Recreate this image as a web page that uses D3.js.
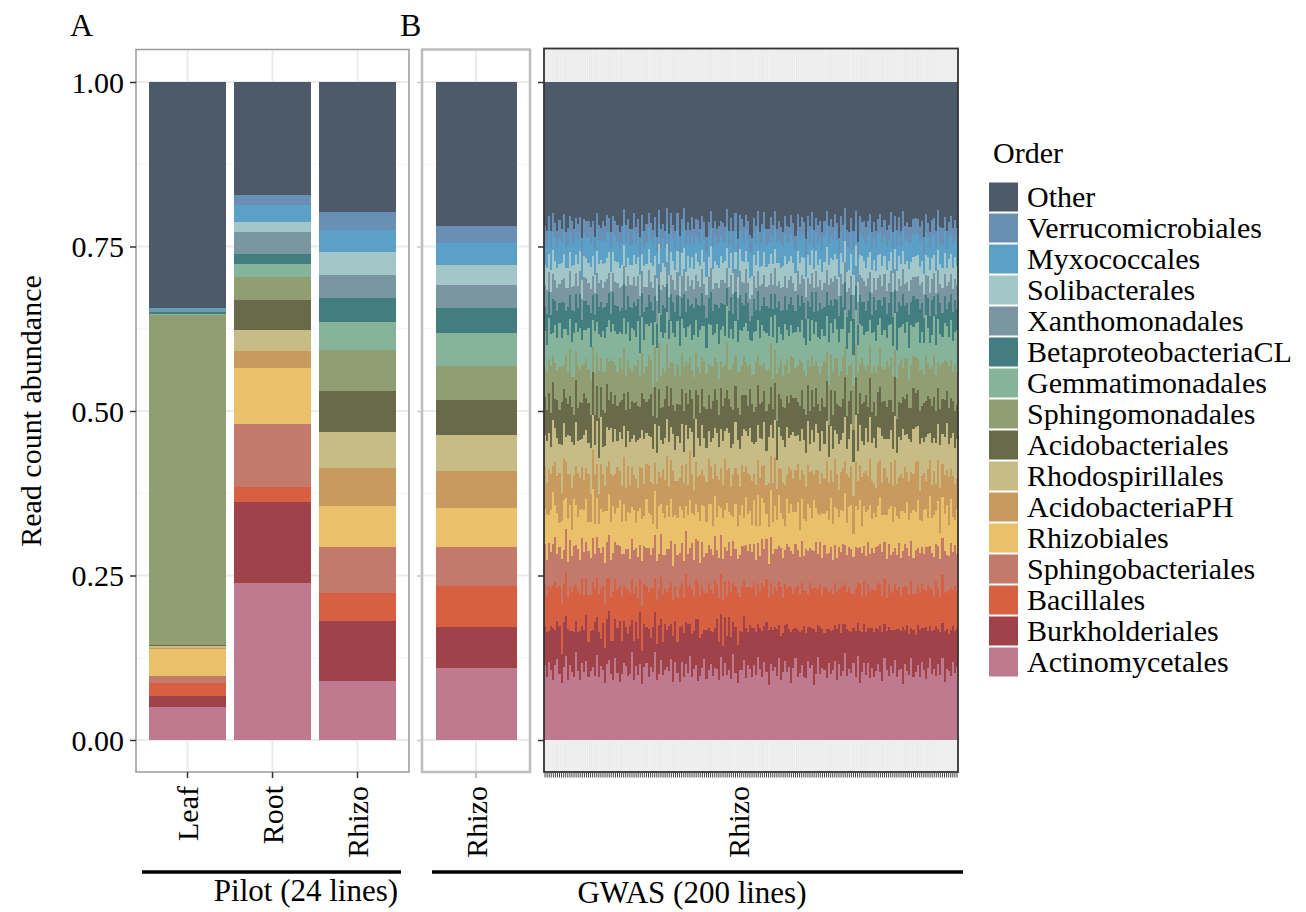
<!DOCTYPE html>
<html>
<head>
<meta charset="utf-8">
<title>Read count abundance by order</title>
<script src="https://cdn.jsdelivr.net/npm/d3@7"></script>
<style>
body { margin: 0; background: #fff; }
svg text { font-family: "Liberation Serif", "Times New Roman", serif; fill: #000; }
</style>
</head>
<body>
<script>

// legend order, top to bottom (stacking goes the other way)
var orders = ["Other","Verrucomicrobiales","Myxococcales","Solibacterales","Xanthomonadales",
  "BetaproteobacteriaCL","Gemmatimonadales","Sphingomonadales","Acidobacteriales","Rhodospirillales",
  "AcidobacteriaPH","Rhizobiales","Sphingobacteriales","Bacillales","Burkholderiales","Actinomycetales"];
var orderColors = ["#4c5a69","#6a8fb4","#5ba0c7","#a3c6c9","#7a97a1","#427e80","#86b49a","#919e71",
  "#696a4a","#c7bb86","#c99a5e","#eac16a","#c47a6a","#d66041","#9f4249","#bf7a90"];

var pilotSamples = ["Leaf","Root","Rhizo"];
// proportions in legend order
var pilotLeaf  = [0.343,0.001,0.002,0.001,0.003,0.002,0.002,0.502,0.001,0.003,0.002,0.040,0.012,0.019,0.017,0.050];
var pilotRoot  = [0.172,0.015,0.026,0.015,0.033,0.016,0.019,0.036,0.045,0.032,0.026,0.085,0.096,0.023,0.122,0.239];
var pilotRhizo = [0.198,0.027,0.034,0.035,0.035,0.035,0.044,0.062,0.062,0.054,0.059,0.062,0.069,0.043,0.091,0.090];
var gwasRhizo  = [0.219,0.025,0.034,0.031,0.034,0.039,0.049,0.052,0.054,0.054,0.057,0.058,0.060,0.062,0.062,0.110];

// GWAS: 200 lines, per-mille read counts per order (rough)
var gwasActinomycetales = [
112,98,121,105,93,117,130,101,88,109,124,96,115,107,99,132,110,94,118,103,
126,91,108,114,100,135,97,119,106,89,113,128,102,95,120,111,84,104,123,116,
99,107,131,92,115,101,118,87,109,125,96,112,104,138,93,106,121,98,110,117,
103,127,95,114,108,90,122,100,116,105,134,97,111,119,86,102,113,129,94,107,
120,99,109,115,92,124,104,117,101,111,96,130,106,88,114,103,125,98,119,108,
95,116,102,133,110,97,121,105,89,118,107,113,100,127,94,109,122,103,115,91,
112,128,98,106,119,101,93,124,110,117,86,105,131,99,114,108,96,120,104,111,
123,94,115,102,109,137,97,112,106,118,100,126,91,108,116,103,121,95,113,99,
107,119,104,92,125,111,98,117,103,129,95,110,114,87,120,106,101,132,96,109,
116,100,122,108,94,113,127,102,110,97,118,105,124,90,112,107,99,121,104,115];
var gwasBurkholderiales = [
58,71,49,66,80,54,62,75,45,68,59,83,52,64,70,47,61,77,56,65,
73,50,63,57,86,60,69,44,72,55,66,78,51,62,58,74,90,53,67,60,
64,76,48,61,70,57,82,52,65,59,73,46,68,63,55,79,62,50,71,58,
67,54,74,60,49,85,56,69,63,77,51,66,58,72,92,61,55,47,76,64,
53,68,62,79,57,65,50,71,60,84,66,48,73,59,64,56,70,81,52,67,
75,58,66,52,63,70,55,78,89,57,64,61,74,50,69,62,56,73,60,81,
59,48,72,65,56,80,68,54,63,58,87,66,51,70,62,57,76,53,69,64,
57,79,61,68,74,46,70,59,65,55,72,50,83,63,58,67,54,78,61,71,
66,55,70,77,51,62,75,58,67,49,73,63,60,88,54,69,64,47,72,59,
62,74,53,65,81,58,50,68,61,76,56,70,52,80,63,57,71,55,66,60];
var gwasBacillales = [
63,55,70,58,66,74,52,61,79,57,64,50,68,60,72,56,65,59,73,54,
60,67,57,75,52,63,58,81,55,69,61,53,66,78,59,64,50,71,56,62,
68,54,62,73,57,64,51,70,59,66,56,77,60,53,69,58,63,72,55,61,
57,65,59,51,71,60,66,55,74,58,62,69,54,63,52,67,76,60,58,70,
64,58,72,55,67,61,75,53,62,57,70,59,66,80,56,68,54,63,71,58,
61,70,56,64,58,73,60,66,52,69,55,62,59,67,76,57,63,54,68,72,
55,63,69,58,74,56,62,51,68,60,64,71,57,65,53,70,61,58,66,57,
66,59,53,71,60,65,57,70,63,52,68,61,74,56,64,58,69,55,62,67,
59,72,64,56,69,53,66,61,57,74,60,67,55,63,70,58,62,76,54,65,
63,57,68,60,55,71,59,64,52,67,62,58,73,61,56,69,65,57,70,60];
var gwasSphingobacteriales = [
61,57,66,53,63,70,55,60,68,52,64,58,72,56,62,59,67,54,61,65,
56,64,59,68,54,62,71,57,60,65,53,69,58,63,55,74,59,66,52,61,
63,55,60,67,58,64,53,70,57,62,66,51,61,68,59,56,65,60,54,69,
58,66,54,61,69,55,63,59,65,52,60,71,57,64,62,53,68,56,62,58,
65,60,68,56,62,58,66,54,70,61,57,63,59,52,67,60,55,69,58,64,
54,61,57,65,53,68,59,62,56,70,63,58,66,55,60,64,52,67,61,57,
62,69,55,60,66,57,64,68,53,61,58,72,56,63,59,65,54,60,67,55,
59,53,64,58,67,61,56,63,69,57,65,52,60,68,54,62,66,58,63,59,
66,58,61,70,55,63,60,57,64,59,53,68,62,56,66,61,58,64,55,71,
57,63,59,54,68,60,65,56,62,58,67,61,55,64,60,53,69,59,63,58];
var gwasRhizobiales = [
52,71,44,63,80,49,66,38,59,75,47,68,55,41,73,60,50,78,45,64,
69,42,57,76,48,62,37,70,53,81,46,65,58,74,40,61,67,51,79,43,
56,74,47,63,39,72,58,66,44,79,53,61,36,68,50,77,45,64,57,71,
48,65,80,42,60,73,51,69,38,62,76,46,70,55,43,67,59,81,49,63,
72,45,61,54,78,40,67,57,74,48,64,37,71,52,66,60,44,75,58,50,
41,68,53,77,47,63,70,39,59,73,50,66,45,79,56,62,37,69,54,76,
64,50,75,44,68,58,42,73,61,49,80,55,63,40,71,47,67,52,78,57,
59,77,46,66,53,81,48,62,70,36,65,57,74,43,60,69,51,76,45,63,
47,63,72,57,41,69,54,78,46,66,59,38,75,62,49,70,56,44,73,61,
74,52,40,68,60,45,77,55,65,50,71,43,63,58,79,48,67,53,39,70];
var gwasAcidobacteriaPH = [
63,48,71,55,40,67,59,76,44,61,52,73,47,66,38,58,70,51,64,45,
50,69,43,62,77,54,46,72,58,39,65,53,74,49,60,68,42,57,75,52,
71,44,60,53,68,36,63,79,48,57,74,51,62,45,70,55,41,66,59,78,
46,62,75,50,58,43,70,55,64,47,78,60,38,67,52,73,56,48,61,69,
58,73,49,66,41,61,54,77,52,69,44,63,57,80,46,59,72,50,65,55,
67,40,63,56,74,48,59,45,71,53,61,76,50,42,68,57,64,37,72,54,
52,66,58,79,45,70,51,62,56,73,39,60,69,47,64,53,77,58,43,66,
75,55,41,61,67,52,74,47,63,58,70,44,56,78,49,65,53,71,60,46,
44,68,57,50,72,62,40,69,55,76,48,66,59,51,73,45,61,67,54,79,
61,47,70,58,43,76,56,51,68,42,63,72,49,60,55,74,46,64,57,50];
var gwasRhodospirillales = [
48,66,57,41,70,52,62,45,74,55,38,63,59,72,46,67,51,60,43,69,
61,44,72,53,47,68,56,76,40,62,58,49,71,54,65,42,57,73,50,64,
55,70,42,63,58,75,46,60,67,50,44,69,53,61,48,74,56,39,66,59,
67,51,60,45,73,54,63,49,58,71,37,64,52,68,57,46,70,61,53,43,
40,63,54,69,50,58,72,44,65,56,61,47,74,52,62,43,68,55,59,71,
59,47,68,56,62,41,66,53,75,48,70,57,44,63,51,69,58,72,46,55,
72,54,45,61,66,57,50,69,43,64,52,73,58,49,67,55,62,41,70,53,
46,62,71,50,55,69,38,60,66,53,74,45,63,57,42,68,54,64,59,72,
63,56,49,74,44,60,67,52,58,71,47,62,54,76,50,59,65,48,69,57,
53,73,60,47,68,55,42,66,51,62,57,70,45,59,73,52,48,67,56,61];
var gwasAcidobacteriales = [
56,48,62,51,58,45,60,53,66,50,57,49,61,54,47,63,52,59,55,64,
50,58,53,67,46,55,61,49,57,52,64,48,56,60,51,58,44,62,53,57,
59,52,56,49,63,54,47,58,61,51,55,66,50,57,53,60,48,55,62,52,
54,61,47,57,52,59,55,64,49,56,60,51,58,46,63,53,57,50,61,55,
51,57,60,53,48,62,56,50,59,54,65,52,57,49,55,61,53,58,47,60,
58,50,55,63,52,57,49,61,54,59,46,56,62,51,58,53,60,48,55,64,
53,59,51,56,61,48,58,55,50,63,54,57,47,60,52,56,62,49,58,54,
60,47,57,52,55,64,50,59,53,48,61,56,51,58,65,52,55,60,49,57,
49,56,62,54,58,51,60,47,56,63,52,55,59,50,57,61,48,54,62,53,
57,53,50,61,55,59,52,57,64,49,56,60,53,58,51,55,62,50,57,54];
var gwasSphingomonadales = [
45,61,53,70,40,57,49,66,55,37,63,50,72,47,59,43,68,52,58,46,
62,48,55,41,67,52,73,46,58,64,39,60,51,69,44,56,65,49,71,54,
50,66,43,59,54,71,47,62,38,57,68,53,45,63,56,74,48,60,42,67,
57,42,68,51,63,46,55,70,49,61,53,44,66,58,41,64,50,72,54,47,
69,53,47,62,56,40,65,51,73,45,59,67,48,56,70,42,61,53,64,38,
44,58,71,49,60,55,43,64,57,68,46,52,74,41,63,50,66,56,47,62,
61,47,56,73,44,62,58,40,67,52,65,43,60,55,49,71,45,63,57,69,
53,70,45,58,66,48,61,55,42,69,50,63,47,72,54,39,65,51,60,56,
67,42,62,54,48,73,51,66,56,44,61,57,70,46,64,53,43,68,49,59,
48,64,57,43,71,52,46,60,65,54,40,69,55,62,47,66,58,44,72,51];
var gwasGemmatimonadales = [
55,41,63,48,36,58,51,67,44,53,39,61,47,56,70,43,52,64,38,50,
46,60,52,40,65,49,57,34,62,54,45,68,41,59,50,63,37,55,48,66,
58,44,67,53,47,61,38,56,50,69,43,57,64,40,53,48,66,45,60,52,
42,63,49,57,70,45,54,62,36,59,51,46,65,53,44,68,49,57,41,61,
64,50,38,60,53,47,66,43,58,51,62,40,55,47,69,52,45,61,56,37,
51,67,46,55,42,63,49,58,53,40,66,54,48,62,39,57,64,44,59,50,
39,56,61,44,68,52,47,65,41,57,50,63,45,54,60,38,55,67,49,62,
60,47,53,66,45,58,40,52,69,48,56,42,64,51,46,61,53,39,63,55,
48,62,44,51,59,37,64,55,47,60,43,58,52,67,41,56,50,65,45,53,
57,43,59,49,63,54,41,50,61,46,68,52,38,58,55,44,62,48,51,66];
var gwasBetaproteobacteriaCL = [
35,48,41,29,52,38,44,31,56,40,27,46,37,50,33,43,39,54,30,45,
47,32,53,39,26,45,41,57,34,49,36,43,28,51,38,46,31,42,55,37,
40,55,30,44,49,35,58,38,42,28,47,33,52,41,37,45,26,50,39,44,
29,43,51,36,41,47,32,54,39,45,30,56,42,35,48,38,53,33,46,40,
52,37,45,31,55,40,36,48,27,43,51,38,46,34,57,41,35,49,44,28,
38,50,33,47,42,29,53,41,46,37,44,32,55,40,36,49,43,30,51,45,
44,34,49,40,37,56,39,28,52,43,35,47,41,53,31,45,38,57,36,42,
31,46,39,53,34,44,48,36,41,55,38,30,45,39,50,33,47,42,28,54,
49,40,27,45,51,38,33,50,44,36,58,41,34,48,42,29,52,37,46,39,
36,53,44,38,30,48,42,55,32,46,39,51,37,43,27,54,40,45,49,34];
var gwasXanthomonadales = [
33,37,31,35,39,32,36,30,34,38,33,29,36,35,40,31,34,37,32,36,
36,32,38,30,35,33,37,34,31,39,35,32,36,30,34,38,33,35,29,37,
31,35,33,38,32,36,30,34,37,33,39,31,35,32,36,34,38,30,33,35,
35,30,36,33,37,31,34,39,32,35,33,37,30,36,34,31,38,33,36,32,
38,34,32,36,30,35,39,33,31,37,34,30,36,33,38,32,35,37,31,34,
32,36,35,31,38,34,33,30,37,32,36,39,34,31,35,37,30,34,38,33,
34,31,37,35,33,38,32,36,34,30,37,33,39,35,31,36,34,32,35,38,
37,33,30,34,36,32,38,35,30,36,31,35,33,37,32,39,36,31,34,30,
30,35,38,32,34,37,31,33,39,34,32,36,31,38,35,33,37,35,30,36,
35,38,33,37,31,34,36,32,35,33,38,30,37,34,36,32,31,36,33,37];
var gwasSolibacterales = [
30,34,28,32,36,29,33,31,27,35,30,33,29,34,32,28,36,31,30,33,
33,29,35,31,28,34,30,32,36,29,31,34,28,33,30,35,29,32,34,30,
28,32,30,35,33,29,34,27,31,36,32,29,33,30,35,31,28,34,32,29,
32,35,31,28,34,30,36,33,29,32,28,35,31,34,29,33,30,36,28,31,
35,30,33,29,31,36,28,34,32,30,35,31,27,33,36,30,32,29,34,31,
29,33,36,32,30,28,35,31,34,29,33,30,36,28,32,34,31,35,29,32,
31,28,32,34,29,33,31,36,30,35,29,32,34,31,28,33,35,30,32,36,
34,31,29,33,35,32,30,28,36,31,34,29,32,35,30,28,33,31,36,29,
30,36,32,30,28,34,33,31,29,33,30,36,35,29,31,32,34,28,30,33,
33,29,34,31,32,30,35,32,28,34,31,33,30,32,29,35,31,33,34,30];
var gwasMyxococcales = [
35,31,38,33,29,36,34,40,32,35,30,37,33,39,31,34,36,29,38,33,
32,37,34,30,39,33,35,31,36,34,38,30,35,32,37,33,29,36,34,38,
37,33,30,36,34,38,32,35,29,37,33,36,31,34,39,32,35,37,30,34,
34,38,35,31,33,37,30,36,39,32,35,33,38,30,34,36,32,35,37,31,
31,35,37,34,38,32,36,29,33,35,31,38,34,37,32,35,30,34,36,39,
36,32,34,39,31,35,38,33,35,30,37,34,32,36,38,31,35,33,30,37,
33,36,31,35,37,34,30,38,32,36,34,31,37,33,35,39,32,34,36,30,
38,30,36,32,34,31,37,35,33,39,30,36,35,31,34,37,33,36,32,35,
35,34,33,37,30,36,32,34,38,31,36,33,29,35,37,34,38,32,35,33,
32,37,36,33,35,29,34,37,31,34,38,32,36,34,30,35,33,37,31,36];
var gwasVerrucomicrobiales = [
24,27,22,26,29,23,25,28,21,26,24,27,23,30,25,22,27,24,26,23,
26,23,28,24,21,27,25,22,29,24,26,23,27,25,22,28,24,26,23,27,
23,26,25,29,24,22,27,25,23,28,21,26,24,27,25,23,29,22,26,24,
27,24,22,26,28,25,23,27,24,21,26,29,23,25,27,24,22,28,25,23,
25,28,24,23,26,21,29,24,27,25,23,26,28,22,24,27,25,23,29,26,
22,26,27,25,23,28,24,26,22,27,25,24,21,28,26,23,27,25,24,28,
28,23,25,22,27,24,26,23,28,24,27,22,26,25,29,24,23,27,25,22,
24,27,23,28,25,22,27,26,24,29,23,25,27,22,26,28,24,23,27,25,
26,22,28,25,24,27,23,29,25,22,26,28,24,26,23,25,27,24,22,27,
23,25,26,24,28,23,25,22,27,26,24,28,25,23,27,22,26,25,28,24];
var gwasOther = [
215,232,208,224,201,219,240,212,227,198,221,235,206,218,230,204,225,213,238,209,
222,200,229,216,243,207,220,234,211,226,196,218,231,214,205,237,219,228,203,224,
210,236,219,202,227,214,241,208,223,231,199,217,226,212,239,206,222,215,233,201,
228,205,233,218,210,239,213,200,225,220,236,207,229,216,203,234,211,224,240,214,
204,226,212,237,219,208,230,221,197,235,214,225,209,242,217,203,228,212,220,233,
236,211,224,206,232,218,201,227,238,210,222,199,231,215,226,240,207,219,229,212,
218,241,205,229,214,223,236,210,220,202,232,216,227,208,237,213,200,225,217,231,
207,220,238,212,226,199,223,235,216,230,205,241,213,222,209,229,218,203,234,221,
231,215,202,227,210,236,219,206,232,217,224,211,238,201,228,214,225,233,209,218,
213,229,217,240,204,221,232,215,211,227,200,236,220,210,235,218,206,226,214,230];

var yTicks = [0, 0.25, 0.5, 0.75, 1];
var yMinor = [0.125, 0.375, 0.625, 0.875];

var W = 1306, H = 912;
var svg = d3.select("body").append("svg").attr("width", W).attr("height", H);

var y = d3.scaleLinear().domain([0, 1]).range([740, 82]);
var color = d3.scaleOrdinal().domain(orders).range(orderColors);
var stackKeys = orders.slice().reverse();
var stack = d3.stack().keys(stackKeys).offset(d3.stackOffsetExpand);

function toRow(name, vals) {
  var r = { sample: name };
  orders.forEach(function (o, i) { r[o] = vals[i]; });
  return r;
}

// ---- panel frames -----
var pA = { x0: 136, x1: 409, top: 49.5, bottom: 772 };
var pB = { x0: 422, x1: 530, top: 49.5, bottom: 772 };
var pG = { x0: 544, x1: 958, top: 48.5, bottom: 772 };

function whitePanel(p, bandScale, names) {
  var g = svg.append("g");
  yMinor.forEach(function (t) {
    g.append("line").attr("x1", p.x0).attr("x2", p.x1).attr("y1", y(t)).attr("y2", y(t))
      .attr("stroke", "#f4f4f4").attr("stroke-width", 1);
  });
  yTicks.forEach(function (t) {
    g.append("line").attr("x1", p.x0).attr("x2", p.x1).attr("y1", y(t)).attr("y2", y(t))
      .attr("stroke", "#ebebeb").attr("stroke-width", 2);
  });
  names.forEach(function (n) {
    var cx = bandScale(n) + bandScale.bandwidth() / 2;
    g.append("line").attr("x1", cx).attr("x2", cx).attr("y1", p.top).attr("y2", p.bottom)
      .attr("stroke", "#ebebeb").attr("stroke-width", 2);
  });
  return g;
}

// ---- A: pilot ----
var xA = d3.scaleBand().domain(pilotSamples).range([145, 400]).paddingInner(0.1).paddingOuter(0.05);
whitePanel(pA, xA, pilotSamples);
var pilotRows = [toRow("Leaf", pilotLeaf), toRow("Root", pilotRoot), toRow("Rhizo", pilotRhizo)];
var pilotSeries = stack(pilotRows);

function drawBars(series, xs) {
  svg.append("g").selectAll("g").data(series).enter().append("g")
    .attr("fill", function (s) { return color(s.key); })
    .selectAll("rect").data(function (s) { return s; }).enter().append("rect")
    .attr("x", function (d) { return xs(d.data.sample); })
    .attr("width", xs.bandwidth())
    .attr("y", function (d) { return y(d[1]); })
    .attr("height", function (d) { return y(d[0]) - y(d[1]); })
    .attr("shape-rendering", "crispEdges");
}
drawBars(pilotSeries, xA);

svg.append("rect").attr("x", pA.x0).attr("y", pA.top).attr("width", pA.x1 - pA.x0)
  .attr("height", pA.bottom - pA.top).attr("fill", "none").attr("stroke", "#9a9a9a").attr("stroke-width", 1.5);

var yAxisA = svg.append("g").attr("transform", "translate(" + pA.x0 + ",0)")
  .call(d3.axisLeft(y).tickValues(yTicks).tickFormat(d3.format(".2f")).tickSize(6).tickPadding(6));
yAxisA.select(".domain").remove();
yAxisA.selectAll("line").attr("stroke", "#333").attr("stroke-width", 1.5);
yAxisA.selectAll("text").style("font-size", "30px").attr("dy", "0.34em")
  .style("font-family", "Liberation Serif").attr("fill", "#000");

var xAxisA = svg.append("g").attr("transform", "translate(0," + pA.bottom + ")")
  .call(d3.axisBottom(xA).tickSize(6).tickFormat(""));
xAxisA.select(".domain").remove();
xAxisA.selectAll("line").attr("stroke", "#333").attr("stroke-width", 1.5);

// ---- B: GWAS mean rhizo ----
var xB = d3.scaleBand().domain(["Rhizo"]).range([pB.x0, pB.x1]).paddingInner(0.1).paddingOuter(0.15);
whitePanel(pB, xB, ["Rhizo"]);
drawBars(stack([toRow("Rhizo", gwasRhizo)]), xB);
svg.append("rect").attr("x", pB.x0).attr("y", pB.top).attr("width", pB.x1 - pB.x0)
  .attr("height", pB.bottom - pB.top).attr("fill", "none").attr("stroke", "#bdbdbd").attr("stroke-width", 2.5);
var yAxisB = svg.append("g").attr("transform", "translate(" + pB.x0 + ",0)")
  .call(d3.axisLeft(y).tickValues(yTicks).tickFormat("").tickSize(5));
yAxisB.select(".domain").remove();
yAxisB.selectAll("line").attr("stroke", "#c8c8c8").attr("stroke-width", 1.5);
var xAxisB = svg.append("g").attr("transform", "translate(0," + pB.bottom + ")")
  .call(d3.axisBottom(xB).tickSize(6).tickFormat(""));
xAxisB.select(".domain").remove();
xAxisB.selectAll("line").attr("stroke", "#aaa").attr("stroke-width", 1.5);

// ---- GWAS 200 lines ----
var gwasByOrder = {
  "Other": gwasOther, "Verrucomicrobiales": gwasVerrucomicrobiales, "Myxococcales": gwasMyxococcales,
  "Solibacterales": gwasSolibacterales, "Xanthomonadales": gwasXanthomonadales,
  "BetaproteobacteriaCL": gwasBetaproteobacteriaCL, "Gemmatimonadales": gwasGemmatimonadales,
  "Sphingomonadales": gwasSphingomonadales, "Acidobacteriales": gwasAcidobacteriales,
  "Rhodospirillales": gwasRhodospirillales, "AcidobacteriaPH": gwasAcidobacteriaPH,
  "Rhizobiales": gwasRhizobiales, "Sphingobacteriales": gwasSphingobacteriales,
  "Bacillales": gwasBacillales, "Burkholderiales": gwasBurkholderiales,
  "Actinomycetales": gwasActinomycetales
};
var lineIds = gwasOther.map(function (d, i) { return "line" + (i + 1); });
var gwasRows = lineIds.map(function (id, i) {
  var r = { sample: id };
  orders.forEach(function (o) { r[o] = gwasByOrder[o][i]; });
  return r;
});
var xG = d3.scaleBand().domain(lineIds).range([pG.x0, pG.x1]).padding(0);

svg.append("rect").attr("x", pG.x0).attr("y", pG.top).attr("width", pG.x1 - pG.x0)
  .attr("height", pG.bottom - pG.top).attr("fill", "#ebebeb");
svg.append("g").selectAll("line").data(lineIds).enter().append("line")
  .attr("x1", function (d) { return xG(d) + xG.bandwidth() / 2; })
  .attr("x2", function (d) { return xG(d) + xG.bandwidth() / 2; })
  .attr("y1", pG.top).attr("y2", pG.bottom)
  .attr("stroke", "#f6f6f6").attr("stroke-width", 0.6);
drawBars(stack(gwasRows), xG);
svg.append("rect").attr("x", pG.x0).attr("y", pG.top).attr("width", pG.x1 - pG.x0)
  .attr("height", pG.bottom - pG.top).attr("fill", "none").attr("stroke", "#333").attr("stroke-width", 1.8);
var yAxisG = svg.append("g").attr("transform", "translate(" + pG.x0 + ",0)")
  .call(d3.axisLeft(y).tickValues(yTicks).tickFormat("").tickSize(6));
yAxisG.select(".domain").remove();
yAxisG.selectAll("line").attr("stroke", "#333").attr("stroke-width", 1.5);
var xAxisG = svg.append("g").attr("transform", "translate(0," + (pG.bottom + 0.5) + ")")
  .call(d3.axisBottom(xG).tickSize(5).tickFormat(""));
xAxisG.select(".domain").remove();
xAxisG.selectAll("line").attr("stroke", "#444").attr("stroke-width", 1);

// ---- labels ----
function vLabel(x, txt) {
  svg.append("text").attr("transform", "translate(" + x + ",786) rotate(-90)")
    .attr("text-anchor", "end").attr("dy", "0.35em").style("font-size", "30px").text(txt);
}
pilotSamples.forEach(function (s) { vLabel(xA(s) + xA.bandwidth() / 2, s); });
vLabel(xB("Rhizo") + xB.bandwidth() / 2, "Rhizo");
vLabel(738, "Rhizo");

svg.append("text").attr("transform", "translate(41,411) rotate(-90)").attr("text-anchor", "middle")
  .style("font-size", "30px").text("Read count abundance");
svg.append("text").attr("x", 70).attr("y", 36).style("font-size", "32px").text("A");
svg.append("text").attr("x", 400).attr("y", 36).style("font-size", "32px").text("B");

svg.append("line").attr("x1", 142).attr("x2", 401).attr("y1", 872).attr("y2", 872)
  .attr("stroke", "#000").attr("stroke-width", 3.5);
svg.append("line").attr("x1", 432).attr("x2", 963).attr("y1", 872).attr("y2", 872)
  .attr("stroke", "#000").attr("stroke-width", 3.5);
svg.append("text").attr("x", 306).attr("y", 901).attr("text-anchor", "middle")
  .style("font-size", "31px").text("Pilot (24 lines)");
svg.append("text").attr("x", 692).attr("y", 903).attr("text-anchor", "middle")
  .style("font-size", "31px").text("GWAS (200 lines)");

// ---- legend ----
var leg = svg.append("g").attr("transform", "translate(989,0)");
leg.append("text").attr("x", 4).attr("y", 163).style("font-size", "30px").text("Order");
var items = leg.selectAll("g.item").data(orders).enter().append("g").attr("class", "item")
  .attr("transform", function (d, i) { return "translate(0," + (182.5 + i * 31) + ")"; });
items.append("rect").attr("width", 29).attr("height", 29).attr("fill", function (d) { return color(d); });
items.append("text").attr("x", 38).attr("y", 24).style("font-size", "30px").text(function (d) { return d; });

</script>
</body>
</html>
